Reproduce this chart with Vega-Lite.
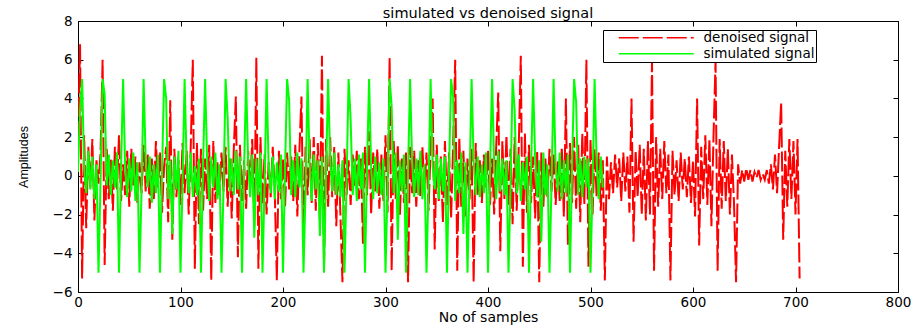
{
  "$schema": "https://vega.github.io/schema/vega-lite/v6.json",
  "width": 820,
  "height": 271,
  "autosize": "none",
  "padding": {"left": 78, "top": 21, "right": 23, "bottom": 34},
  "background": "white",
  "config": {"view": {"stroke": "#000000", "strokeWidth": 1}},
  "title": {"text": "simulated vs denoised signal", "font": "DejaVu Sans", "fontSize": 14.5, "fontWeight": "normal", "color": "#000000", "anchor": "middle", "offset": -7},
  "data": {"values": [
    {"x":0,"d":1.8,"g":0.2},{"x":2,"d":6.8,"g":3.4},{"x":4,"d":-5.3,"g":5.0},{"x":6,"d":2.1,"g":0.4},{"x":8,"d":-2.7,"g":-0.9},{"x":10,"d":1.5,"g":1.3},{"x":12,"d":-0.6,"g":-0.7},{"x":14,"d":1.9,"g":1.0},{"x":16,"d":-2.3,"g":-1.2},{"x":18,"d":0.8,"g":0.6},
    {"x":20,"d":-0.4,"g":-5.0},{"x":22,"d":1.2,"g":-0.3},{"x":24,"d":6.0,"g":5.0},{"x":26,"d":-4.6,"g":4.2},{"x":28,"d":1.4,"g":-0.5},{"x":30,"d":-1.2,"g":1.1},{"x":32,"d":0.9,"g":-1.0},{"x":34,"d":-1.8,"g":0.8},{"x":36,"d":1.5,"g":-0.6},{"x":38,"d":-0.7,"g":1.2},
    {"x":40,"d":2.1,"g":-5.0},{"x":42,"d":-1.3,"g":0.4},{"x":44,"d":0.6,"g":5.0},{"x":46,"d":-1.0,"g":0.5},{"x":48,"d":1.3,"g":-1.1},{"x":50,"d":-1.6,"g":0.9},{"x":52,"d":1.4,"g":-0.8},{"x":54,"d":-0.5,"g":1.2},{"x":56,"d":1.0,"g":-1.3},{"x":58,"d":-1.4,"g":0.7},
    {"x":60,"d":0.7,"g":-5.0},{"x":62,"d":-0.9,"g":-0.8},{"x":64,"d":1.6,"g":5.0},{"x":66,"d":-0.8,"g":0.9},{"x":68,"d":1.1,"g":-0.6},{"x":70,"d":-1.7,"g":1.0},{"x":72,"d":0.9,"g":-1.4},{"x":74,"d":-1.2,"g":0.6},{"x":76,"d":1.8,"g":-0.9},{"x":78,"d":-0.6,"g":1.1},
    {"x":80,"d":1.2,"g":-5.0},{"x":82,"d":-1.9,"g":0.2},{"x":84,"d":0.5,"g":5.0},{"x":86,"d":1.5,"g":4.0},{"x":88,"d":-2.4,"g":-1.2},{"x":90,"d":3.9,"g":0.8},{"x":92,"d":-3.3,"g":-3.0},{"x":94,"d":1.4,"g":1.0},{"x":96,"d":-1.1,"g":-0.7},{"x":98,"d":0.8,"g":1.3},
    {"x":100,"d":-1.5,"g":-5.0},{"x":102,"d":1.7,"g":-0.4},{"x":104,"d":-0.9,"g":5.0},{"x":106,"d":1.3,"g":0.6},{"x":108,"d":-2.0,"g":-0.9},{"x":110,"d":1.5,"g":1.2},{"x":112,"d":6.0,"g":-1.1},{"x":114,"d":-4.8,"g":0.5},{"x":116,"d":1.7,"g":-1.0},{"x":118,"d":-2.5,"g":0.9},
    {"x":120,"d":1.4,"g":-5.0},{"x":122,"d":-1.8,"g":0.5},{"x":124,"d":0.9,"g":5.0},{"x":126,"d":-1.2,"g":0.8},{"x":128,"d":1.6,"g":-1.3},{"x":130,"d":-5.4,"g":1.0},{"x":132,"d":1.8,"g":-0.6},{"x":134,"d":-1.4,"g":1.2},{"x":136,"d":0.7,"g":-1.2},{"x":138,"d":-1.0,"g":0.6},
    {"x":140,"d":1.2,"g":-5.0},{"x":142,"d":-0.8,"g":-0.6},{"x":144,"d":1.5,"g":5.0},{"x":146,"d":-1.6,"g":3.0},{"x":148,"d":0.9,"g":-0.8},{"x":150,"d":-2.2,"g":0.9},{"x":152,"d":1.4,"g":-1.0},{"x":154,"d":4.1,"g":1.3},{"x":156,"d":-4.2,"g":-0.7},{"x":158,"d":1.6,"g":1.0},
    {"x":160,"d":-1.3,"g":-5.0},{"x":162,"d":0.8,"g":0.3},{"x":164,"d":-1.7,"g":5.0},{"x":166,"d":1.3,"g":0.7},{"x":168,"d":-0.6,"g":-1.1},{"x":170,"d":1.9,"g":1.1},{"x":172,"d":-2.6,"g":-3.2},{"x":174,"d":6.1,"g":0.9},{"x":176,"d":-4.8,"g":-1.0},{"x":178,"d":2.0,"g":1.2},
    {"x":180,"d":-1.5,"g":-5.0},{"x":182,"d":1.1,"g":-0.5},{"x":184,"d":-2.0,"g":5.0},{"x":186,"d":0.7,"g":0.5},{"x":188,"d":-1.1,"g":-0.9},{"x":190,"d":1.5,"g":1.0},{"x":192,"d":-0.9,"g":-1.2},{"x":194,"d":-5.4,"g":0.7},{"x":196,"d":1.3,"g":-0.8},{"x":198,"d":-1.2,"g":1.1},
    {"x":200,"d":0.9,"g":-5.0},{"x":202,"d":-1.6,"g":0.4},{"x":204,"d":1.2,"g":5.0},{"x":206,"d":-0.7,"g":3.9},{"x":208,"d":1.0,"g":-1.0},{"x":210,"d":-1.3,"g":0.8},{"x":212,"d":1.6,"g":-1.1},{"x":214,"d":-2.1,"g":1.2},{"x":216,"d":1.3,"g":-0.6},{"x":218,"d":4.1,"g":0.9},
    {"x":220,"d":-3.6,"g":-5.0},{"x":222,"d":1.5,"g":-0.7},{"x":224,"d":-1.0,"g":5.0},{"x":226,"d":1.9,"g":0.6},{"x":228,"d":-1.4,"g":-1.3},{"x":230,"d":2.0,"g":1.1},{"x":232,"d":-1.8,"g":-0.7},{"x":234,"d":1.7,"g":0.8},{"x":236,"d":-2.3,"g":-3.1},{"x":238,"d":6.2,"g":1.0},
    {"x":240,"d":-4.7,"g":-5.0},{"x":242,"d":1.9,"g":0.2},{"x":244,"d":-1.6,"g":5.0},{"x":246,"d":2.0,"g":0.9},{"x":248,"d":-1.1,"g":-0.8},{"x":250,"d":1.5,"g":1.2},{"x":252,"d":-2.6,"g":-1.0},{"x":254,"d":1.2,"g":0.6},{"x":256,"d":-2.0,"g":-1.1},{"x":258,"d":-5.5,"g":0.8},
    {"x":260,"d":1.4,"g":-5.0},{"x":262,"d":-1.0,"g":-0.4},{"x":264,"d":0.8,"g":5.0},{"x":266,"d":-1.5,"g":2.9},{"x":268,"d":1.1,"g":-1.0},{"x":270,"d":-0.6,"g":0.9},{"x":272,"d":1.3,"g":-1.3},{"x":274,"d":-1.2,"g":1.1},{"x":276,"d":0.9,"g":-0.7},{"x":278,"d":-3.5,"g":1.2},
    {"x":280,"d":1.5,"g":-5.0},{"x":282,"d":-1.0,"g":0.5},{"x":284,"d":2.3,"g":5.0},{"x":286,"d":-2.0,"g":0.4},{"x":288,"d":1.2,"g":-1.2},{"x":290,"d":-0.8,"g":1.0},{"x":292,"d":1.4,"g":-0.9},{"x":294,"d":-1.7,"g":0.7},{"x":296,"d":1.1,"g":-1.0},{"x":298,"d":-1.3,"g":0.9},
    {"x":300,"d":2.1,"g":-5.0},{"x":302,"d":-1.9,"g":-0.6},{"x":304,"d":6.1,"g":5.0},{"x":306,"d":-4.9,"g":3.6},{"x":308,"d":1.8,"g":-0.9},{"x":310,"d":-1.2,"g":1.2},{"x":312,"d":1.6,"g":-3.3},{"x":314,"d":-2.1,"g":0.8},{"x":316,"d":0.9,"g":-0.8},{"x":318,"d":-1.4,"g":1.1},
    {"x":320,"d":1.2,"g":-5.0},{"x":322,"d":-5.5,"g":0.3},{"x":324,"d":1.5,"g":5.0},{"x":326,"d":-0.9,"g":0.7},{"x":328,"d":1.3,"g":-1.1},{"x":330,"d":-1.6,"g":0.9},{"x":332,"d":0.8,"g":-1.0},{"x":334,"d":-1.1,"g":1.3},{"x":336,"d":1.5,"g":-1.2},{"x":338,"d":-0.7,"g":0.6},
    {"x":340,"d":1.2,"g":-5.0},{"x":342,"d":-1.8,"g":-0.5},{"x":344,"d":1.4,"g":5.0},{"x":346,"d":4.0,"g":0.5},{"x":348,"d":-3.8,"g":-0.7},{"x":350,"d":1.6,"g":1.1},{"x":352,"d":-1.3,"g":-1.2},{"x":354,"d":1.0,"g":0.9},{"x":356,"d":-2.4,"g":-0.8},{"x":358,"d":1.8,"g":1.0},
    {"x":360,"d":-1.5,"g":-5.0},{"x":362,"d":1.2,"g":0.4},{"x":364,"d":-2.2,"g":5.0},{"x":366,"d":1.6,"g":4.1},{"x":368,"d":6.0,"g":-1.3},{"x":370,"d":-4.9,"g":0.8},{"x":372,"d":2.0,"g":-0.9},{"x":374,"d":-1.7,"g":1.2},{"x":376,"d":1.3,"g":-3.0},{"x":378,"d":-2.1,"g":0.7},
    {"x":380,"d":0.9,"g":-5.0},{"x":382,"d":-1.2,"g":-0.3},{"x":384,"d":1.4,"g":5.0},{"x":386,"d":-5.5,"g":0.8},{"x":388,"d":1.7,"g":-1.0},{"x":390,"d":-1.0,"g":1.0},{"x":392,"d":0.8,"g":-1.1},{"x":394,"d":-1.4,"g":0.6},{"x":396,"d":1.1,"g":-0.9},{"x":398,"d":-0.6,"g":1.2},
    {"x":400,"d":1.3,"g":-5.0},{"x":402,"d":-1.5,"g":0.5},{"x":404,"d":0.9,"g":5.0},{"x":406,"d":-2.0,"g":0.6},{"x":408,"d":1.5,"g":-1.2},{"x":410,"d":4.3,"g":1.3},{"x":412,"d":-3.9,"g":-0.8},{"x":414,"d":1.8,"g":0.9},{"x":416,"d":-1.2,"g":-1.0},{"x":418,"d":2.1,"g":0.8},
    {"x":420,"d":-1.6,"g":-5.0},{"x":422,"d":1.4,"g":-0.6},{"x":424,"d":-2.5,"g":5.0},{"x":426,"d":2.0,"g":3.4},{"x":428,"d":-1.8,"g":-0.9},{"x":430,"d":1.5,"g":1.1},{"x":432,"d":6.2,"g":-1.3},{"x":434,"d":-4.7,"g":0.7},{"x":436,"d":2.2,"g":-0.7},{"x":438,"d":-1.9,"g":1.0},
    {"x":440,"d":1.6,"g":-5.0},{"x":442,"d":-1.4,"g":0.3},{"x":444,"d":1.0,"g":5.0},{"x":446,"d":-2.2,"g":0.9},{"x":448,"d":1.3,"g":-1.1},{"x":450,"d":-5.5,"g":0.8},{"x":452,"d":1.2,"g":-3.4},{"x":454,"d":-1.6,"g":1.2},{"x":456,"d":0.9,"g":-1.0},{"x":458,"d":-1.1,"g":0.6},
    {"x":460,"d":1.4,"g":-5.0},{"x":462,"d":-0.8,"g":-0.4},{"x":464,"d":1.1,"g":5.0},{"x":466,"d":-1.5,"g":0.5},{"x":468,"d":0.8,"g":-0.8},{"x":470,"d":-1.3,"g":1.2},{"x":472,"d":1.5,"g":-1.2},{"x":474,"d":-2.1,"g":0.8},{"x":476,"d":4.0,"g":-0.9},{"x":478,"d":-3.6,"g":1.1},
    {"x":480,"d":1.7,"g":-5.0},{"x":482,"d":-1.4,"g":0.4},{"x":484,"d":2.0,"g":5.0},{"x":486,"d":-1.7,"g":3.8},{"x":488,"d":1.6,"g":-1.0},{"x":490,"d":-2.4,"g":0.9},{"x":492,"d":2.2,"g":-1.1},{"x":494,"d":-1.5,"g":1.0},{"x":496,"d":6.0,"g":-0.6},{"x":498,"d":-4.7,"g":0.9},
    {"x":500,"d":1.9,"g":-5.0},{"x":502,"d":-2.0,"g":-0.5},{"x":504,"d":1.4,"g":5.0},{"x":506,"d":-1.1,"g":0.7},{"x":508,"d":1.2,"g":-1.2},{"x":510,"d":-1.8,"g":1.0},{"x":512,"d":0.8,"g":-0.6},{"x":514,"d":-5.4},{"x":516,"d":1.0},{"x":518,"d":-1.2},
    {"x":520,"d":0.7},{"x":522,"d":-0.9},{"x":524,"d":1.1},{"x":526,"d":-0.6},{"x":528,"d":0.9},{"x":530,"d":-1.3},{"x":532,"d":1.2},{"x":534,"d":-0.8},{"x":536,"d":1.0},{"x":538,"d":-1.9},
    {"x":540,"d":4.0},{"x":542,"d":-3.4},{"x":544,"d":1.3},{"x":546,"d":-1.1},{"x":548,"d":1.6},{"x":550,"d":-2.0},{"x":552,"d":1.4},{"x":554,"d":-2.3},{"x":556,"d":1.8},{"x":558,"d":-2.0},
    {"x":560,"d":5.9},{"x":562,"d":-4.9},{"x":564,"d":2.0},{"x":566,"d":-1.6},{"x":568,"d":1.4},{"x":570,"d":-1.2},{"x":572,"d":1.8},{"x":574,"d":-0.9},{"x":576,"d":1.1},{"x":578,"d":-5.4},
    {"x":580,"d":1.3},{"x":582,"d":-1.0},{"x":584,"d":0.8},{"x":586,"d":-1.3},{"x":588,"d":1.2},{"x":590,"d":-0.7},{"x":592,"d":0.9},{"x":594,"d":-1.1},{"x":596,"d":1.0},{"x":598,"d":-1.4},
    {"x":600,"d":0.8},{"x":602,"d":-2.1},{"x":604,"d":4.0},{"x":606,"d":-3.6},{"x":608,"d":1.5},{"x":610,"d":-1.2},{"x":612,"d":2.1},{"x":614,"d":-1.5},{"x":616,"d":1.9},{"x":618,"d":-2.6},
    {"x":620,"d":2.0},{"x":622,"d":5.9},{"x":624,"d":-4.9},{"x":626,"d":1.9},{"x":628,"d":-1.7},{"x":630,"d":1.8},{"x":632,"d":-1.3},{"x":634,"d":1.4},{"x":636,"d":-2.0},{"x":638,"d":1.1},
    {"x":640,"d":-1.4},{"x":642,"d":-5.5},{"x":644,"d":0.6},{"x":646,"d":-0.4},{"x":648,"d":0.3},{"x":650,"d":-0.3},{"x":652,"d":0.4},{"x":654,"d":-0.2},{"x":656,"d":0.3},{"x":658,"d":-0.3},
    {"x":660,"d":0.2},{"x":662,"d":-0.1},{"x":664,"d":0.3},{"x":666,"d":-0.2},{"x":668,"d":0.1},{"x":670,"d":-0.2},{"x":672,"d":0.3},{"x":674,"d":-0.4},{"x":676,"d":0.6},{"x":678,"d":-0.7},
    {"x":680,"d":1.1},{"x":682,"d":-0.9},{"x":684,"d":1.5},{"x":686,"d":3.8},{"x":688,"d":-3.3},{"x":690,"d":1.3},{"x":692,"d":-1.6},{"x":694,"d":1.9},{"x":696,"d":-1.2},{"x":698,"d":1.8},
    {"x":700,"d":-2.0},{"x":702,"d":1.9},{"x":704,"d":-5.3}
  ]},
  "layer": [
    {
      "transform": [{"fold": ["d", "g"], "as": ["s", "v"]}, {"filter": "isValid(datum.v)"}],
      "mark": {"type": "line", "strokeWidth": 2, "clip": true},
      "encoding": {
        "x": {"field": "x", "type": "quantitative",
          "scale": {"domain": [0, 800], "nice": false, "zero": false},
          "axis": {"orient": "bottom", "values": [0,100,200,300,400,500,600,700,800], "tickSize": -5, "tickColor": "#000000", "domain": false, "grid": false, "labelPadding": 8, "labelFont": "DejaVu Sans", "labelFontSize": 13.5, "labelColor": "#000000", "labelFlush": false, "title": "No of samples", "titleFont": "DejaVu Sans", "titleFontSize": 14, "titleFontWeight": "normal", "titleColor": "#000000", "titlePadding": 2}},
        "y": {"field": "v", "type": "quantitative",
          "scale": {"domain": [-6, 8], "nice": false, "zero": false},
          "axis": {"orient": "left", "values": [-6,-4,-2,0,2,4,6,8], "tickSize": -5, "tickColor": "#000000", "domain": false, "grid": false, "labelPadding": 11, "labelFont": "DejaVu Sans", "labelFontSize": 13.5, "labelColor": "#000000", "labelFlush": false, "title": "Amplitudes", "titleFont": "Liberation Sans", "titleFontSize": 12.5, "titleFontWeight": "normal", "titleColor": "#000000", "titlePadding": 22}},
        "color": {"field": "s", "type": "nominal",
          "scale": {"domain": ["d", "g"], "range": ["#ff0000", "#00ff00"]},
          "legend": {"orient": "none", "legendX": 525, "legendY": 9, "direction": "vertical", "title": null, "strokeColor": "#000000", "fillColor": "#ffffff", "padding": 1, "symbolType": "M1.6,0H16.6", "symbolSize": 100, "symbolStrokeWidth": 1.6, "labelFont": "DejaVu Sans", "labelFontSize": 13.5, "labelColor": "#000000", "labelOffset": 86, "labelLimit": 400, "rowPadding": 1,
            "labelExpr": "datum.value == 'd' ? 'denoised signal' : 'simulated signal'",
            "encode": {"symbols": {"update": {"strokeDash": {"signal": "datum.value == 'd' ? [30, 10] : [1, 0]"}}}}}},
        "strokeDash": {"field": "s", "type": "nominal",
          "scale": {"domain": ["d", "g"], "range": [[20, 4], [1, 0]]},
          "legend": null}
      }
    },
    {
      "mark": {"type": "point", "opacity": 0},
      "encoding": {
        "x": {"field": "x", "type": "quantitative",
          "scale": {"domain": [0, 800], "nice": false, "zero": false},
          "axis": {"orient": "top", "values": [0,100,200,300,400,500,600,700,800], "tickSize": -5, "tickColor": "#000000", "domain": false, "grid": false, "labels": false, "title": null}},
        "y": {"field": "d", "type": "quantitative",
          "scale": {"domain": [-6, 8], "nice": false, "zero": false},
          "axis": {"orient": "right", "values": [-6,-4,-2,0,2,4,6,8], "tickSize": -5, "tickColor": "#000000", "domain": false, "grid": false, "labels": false, "title": null}}
      }
    }
  ],
  "resolve": {"axis": {"x": "independent", "y": "independent"}}
}
